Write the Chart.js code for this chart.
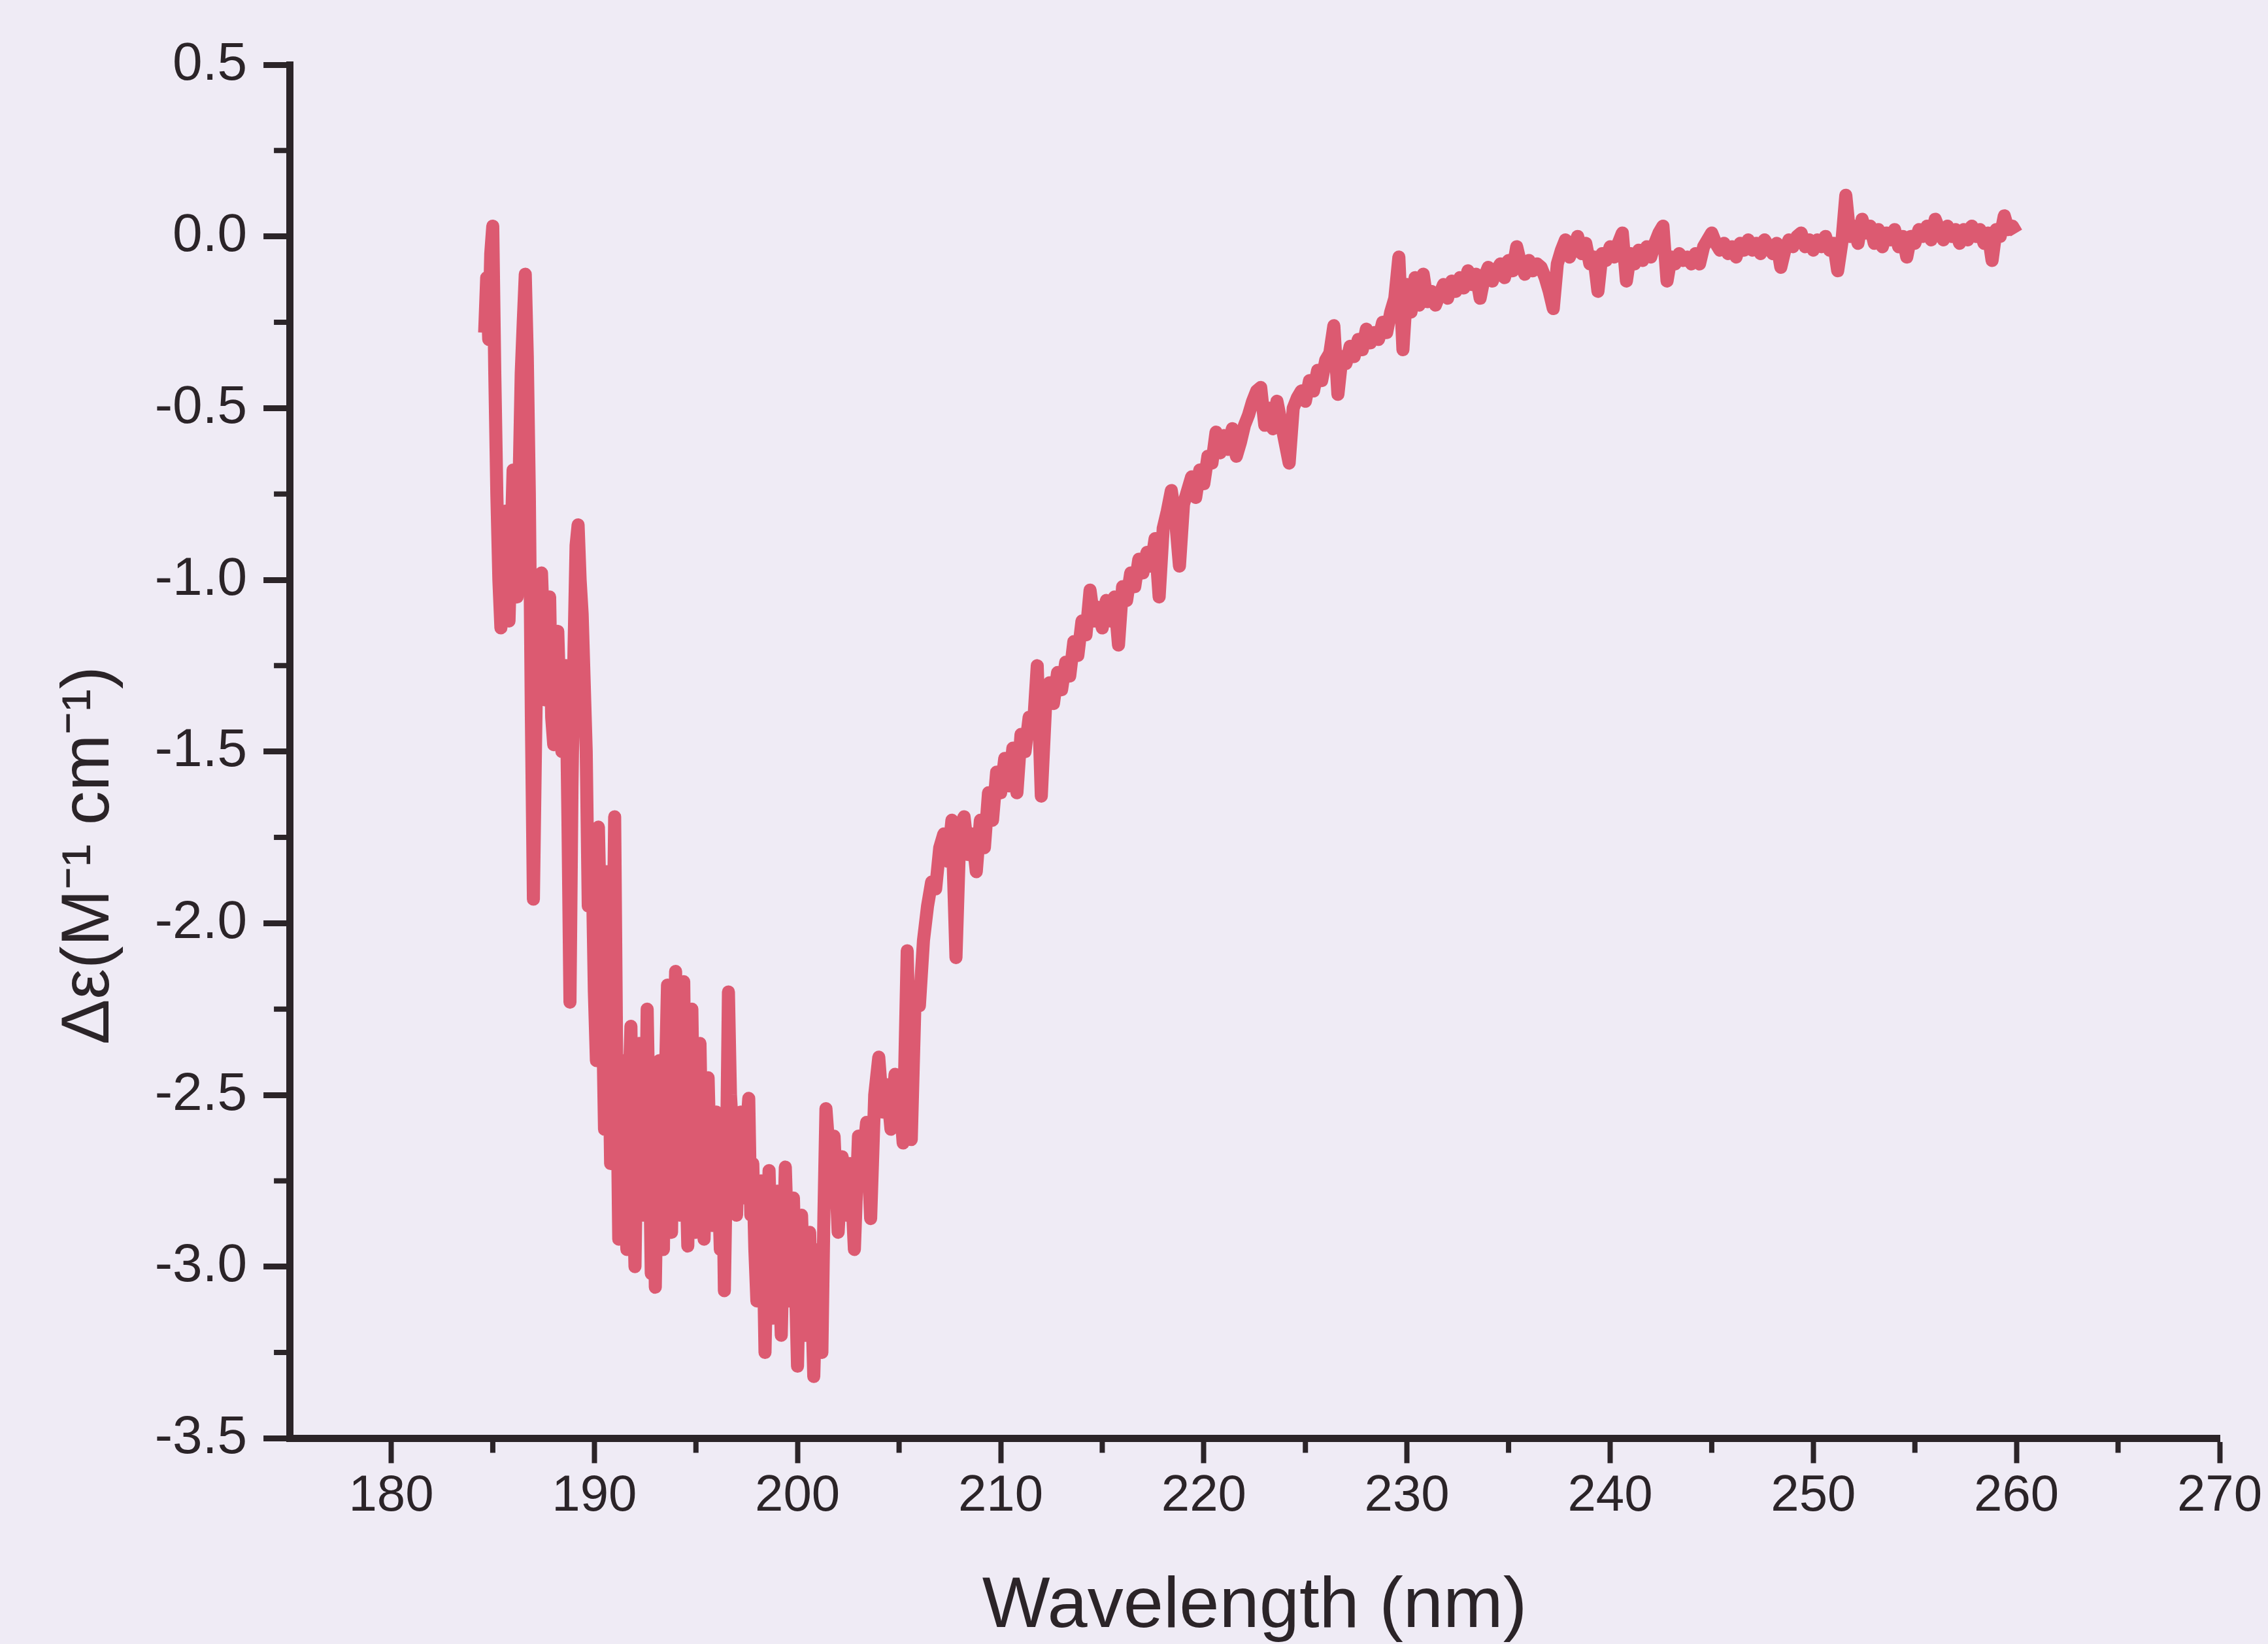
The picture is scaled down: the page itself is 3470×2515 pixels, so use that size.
<!DOCTYPE html>
<html>
<head>
<meta charset="utf-8">
<script src="https://cdn.jsdelivr.net/npm/chart.js@4.4.1/dist/chart.umd.min.js"></script>
<style>
html,body{margin:0;padding:0;background:#EFEBF5;}
canvas{display:block;}
</style>
</head>
<body>
<canvas id="c" width="3470" height="2515"></canvas>
<script>
// Wavelength (nm) of each sample
const wavelengthNm = [
184.6,184.7,184.8,184.9,185.0,185.1,185.2,185.3,185.4,185.5,
185.6,185.7,185.8,185.9,186.0,186.1,186.2,186.3,186.4,186.5,
186.6,186.7,186.8,186.9,187.0,187.1,187.2,187.3,187.4,187.5,
187.6,187.7,187.8,187.9,188.0,188.1,188.2,188.3,188.4,188.5,
188.6,188.7,188.8,188.9,189.0,189.1,189.2,189.3,189.4,189.5,
189.6,189.7,189.8,189.9,190.0,190.1,190.2,190.3,190.4,190.5,
190.6,190.7,190.8,190.9,191.0,191.1,
191.2,191.3,191.4,191.5,191.6,191.7,191.8,191.9,192.0,192.1,
192.2,192.3,192.4,192.5,192.6,192.7,192.8,192.9,193.0,193.1,
193.2,193.3,193.4,193.5,193.6,193.7,193.8,193.9,194.0,194.1,
194.2,194.3,194.4,194.5,194.6,194.7,194.8,194.9,195.0,195.1,
195.2,195.3,195.4,195.5,195.6,195.7,195.8,195.9,196.0,196.1,
196.2,196.3,196.4,196.5,196.6,196.7,196.8,196.9,197.0,197.1,
197.2,197.3,197.4,197.5,197.6,197.7,197.8,197.9,198.0,198.1,
198.2,198.3,198.4,198.5,198.6,198.7,198.8,198.9,199.0,199.1,
199.2,199.3,199.4,199.5,199.6,199.7,199.8,199.9,200.0,200.1,
200.2,200.3,200.4,200.5,200.6,200.7,200.8,200.9,201.0,201.1,
201.2,201.3,201.4,
201.6,201.8,202.0,202.2,202.4,
202.6,202.8,203.0,203.2,203.4,203.6,203.8,204.0,204.2,204.4,
204.6,204.8,205.0,205.2,205.4,205.6,205.8,206.0,206.2,206.4,
206.6,206.8,207.0,207.2,207.4,207.6,207.8,208.0,208.2,208.4,
208.6,208.8,209.0,209.2,209.4,209.6,209.8,210.0,210.2,210.4,
210.6,210.8,211.0,211.2,211.4,211.6,211.8,212.0,212.2,212.4,
212.6,212.8,213.0,213.2,213.4,213.6,213.8,214.0,214.2,214.4,
214.6,214.8,215.0,215.2,215.4,215.6,215.8,216.0,216.2,216.4,
216.6,216.8,217.0,217.2,217.4,217.6,217.8,218.0,218.2,218.4,
218.6,218.8,219.0,219.2,219.4,219.6,219.8,220.0,220.2,220.4,
220.6,220.8,221.0,221.2,221.4,221.6,221.8,222.0,222.2,222.4,
222.6,222.8,223.0,223.2,223.4,223.6,223.8,224.0,224.2,224.4,
224.6,224.8,225.0,225.2,225.4,225.6,225.8,226.0,226.2,226.4,
226.6,226.8,227.0,227.2,227.4,227.6,227.8,228.0,228.2,228.4,
228.6,228.8,229.0,229.2,229.4,229.6,229.8,230.0,230.2,230.4,
230.6,230.8,231.0,231.2,231.4,231.6,231.8,232.0,232.2,232.4,
232.6,232.8,233.0,233.2,233.4,233.6,233.8,234.0,234.2,234.4,
234.6,234.8,235.0,235.2,235.4,235.6,235.8,236.0,236.2,236.4,
236.6,236.8,237.0,237.2,237.4,237.6,237.8,238.0,238.2,238.4,
238.6,238.8,239.0,239.2,239.4,239.6,239.8,240.0,240.2,240.4,
240.6,240.8,241.0,241.2,241.4,241.6,241.8,242.0,242.2,242.4,
242.6,242.8,243.0,243.2,243.4,243.6,243.8,244.0,244.2,244.4,
244.6,244.8,245.0,245.2,245.4,245.6,245.8,246.0,246.2,246.4,
246.6,246.8,247.0,247.2,247.4,247.6,247.8,248.0,248.2,248.4,
248.6,248.8,249.0,249.2,249.4,249.6,249.8,250.0,250.2,250.4,
250.6,250.8,251.0,251.2,251.4,251.6,251.8,252.0,252.2,252.4,
252.6,252.8,253.0,253.2,253.4,253.6,253.8,254.0,254.2,254.4,
254.6,254.8,255.0,255.2,255.4,255.6,255.8,256.0,256.2,256.4,
256.6,256.8,257.0,257.2,257.4,257.6,257.8,258.0,258.2,258.4,
258.6,258.8,259.0,259.2,259.4,259.6,259.8,260.0
];

// Δε (M^-1 cm^-1), one per wavelength above
const deltaEpsilon = [
-0.28,-0.12,-0.30,-0.05,0.03,-0.40,-0.75,-1.00,-1.14,-0.95,
-0.80,-1.00,-1.12,-0.90,-0.68,-0.85,-1.05,-0.70,-0.40,-0.25,
-0.11,-0.35,-0.75,-1.40,-1.93,-1.50,-1.10,-1.30,-0.98,-1.15,
-1.35,-1.25,-1.05,-1.40,-1.48,-1.20,-1.15,-1.35,-1.50,-1.40,
-1.25,-1.70,-2.23,-1.60,-1.20,-0.90,-0.84,-1.00,-1.10,-1.30,
-1.50,-1.95,-1.75,-1.85,-2.20,-2.40,-1.72,-2.00,-2.25,-2.60,
-1.85,-2.30,-2.70,-2.20,-1.69,-2.40,
-2.92,-2.55,-2.40,-2.80,-2.95,-2.50,-2.30,-2.75,-3.00,-2.60,
-2.35,-2.55,-2.85,-2.70,-2.25,-2.60,-3.02,-2.45,-3.06,-2.70,
-2.40,-2.65,-2.95,-2.45,-2.18,-2.65,-2.90,-2.40,-2.14,-2.60,
-2.85,-2.45,-2.17,-2.70,-2.94,-2.50,-2.25,-2.65,-2.90,-2.55,
-2.35,-2.70,-2.92,-2.60,-2.45,-2.70,-2.88,-2.65,-2.55,-2.75,
-2.95,-2.60,-3.07,-2.70,-2.20,-2.50,-2.60,-2.75,-2.85,-2.65,
-2.55,-2.70,-2.80,-2.60,-2.51,-2.85,-2.70,-2.95,-3.10,-2.85,
-2.75,-2.90,-3.25,-2.95,-2.72,-2.95,-3.15,-2.90,-2.78,-3.00,
-3.20,-2.95,-2.71,-2.90,-3.10,-2.95,-2.80,-3.05,-3.29,-3.00,
-2.85,-3.05,-3.20,-3.00,-2.90,-3.10,-3.32,-3.10,-2.95,-3.05,
-3.25,-2.85,-2.54,
-2.70,-2.62,-2.90,-2.68,-2.85,
-2.70,-2.95,-2.62,-2.70,-2.58,-2.86,-2.50,-2.39,-2.55,-2.47,
-2.60,-2.44,-2.48,-2.64,-2.08,-2.63,-2.19,-2.24,-2.05,-1.95,
-1.88,-1.90,-1.78,-1.74,-1.82,-1.70,-2.10,-1.72,-1.69,-1.80,
-1.74,-1.85,-1.70,-1.78,-1.62,-1.70,-1.56,-1.62,-1.52,-1.60,
-1.49,-1.62,-1.45,-1.50,-1.40,-1.44,-1.25,-1.63,-1.38,-1.30,
-1.36,-1.27,-1.32,-1.24,-1.28,-1.18,-1.22,-1.12,-1.16,-1.03,
-1.12,-1.08,-1.14,-1.06,-1.12,-1.05,-1.19,-1.02,-1.06,-0.98,
-1.02,-0.94,-0.98,-0.92,-0.96,-0.88,-1.05,-0.85,-0.80,-0.74,
-0.82,-0.96,-0.78,-0.74,-0.70,-0.76,-0.68,-0.72,-0.64,-0.66,
-0.57,-0.63,-0.58,-0.62,-0.56,-0.64,-0.60,-0.55,-0.52,-0.48,
-0.45,-0.44,-0.55,-0.50,-0.56,-0.48,-0.54,-0.60,-0.66,-0.50,
-0.47,-0.45,-0.48,-0.42,-0.45,-0.39,-0.42,-0.36,-0.34,-0.26,
-0.46,-0.35,-0.37,-0.32,-0.35,-0.30,-0.33,-0.27,-0.31,-0.28,
-0.30,-0.25,-0.28,-0.22,-0.18,-0.06,-0.33,-0.14,-0.22,-0.12,
-0.20,-0.11,-0.19,-0.16,-0.20,-0.17,-0.14,-0.18,-0.13,-0.16,
-0.12,-0.15,-0.10,-0.14,-0.11,-0.18,-0.12,-0.09,-0.13,-0.10,
-0.08,-0.12,-0.07,-0.10,-0.03,-0.08,-0.11,-0.07,-0.10,-0.08,
-0.09,-0.12,-0.16,-0.21,-0.08,-0.04,-0.01,-0.06,-0.03,0.00,
-0.05,-0.02,-0.08,-0.06,-0.16,-0.05,-0.07,-0.03,-0.06,-0.02,
0.01,-0.13,-0.05,-0.08,-0.04,-0.07,-0.03,-0.06,-0.02,0.01,
0.03,-0.13,-0.06,-0.08,-0.05,-0.07,-0.06,-0.08,-0.05,-0.08,
-0.03,-0.01,0.01,-0.02,-0.04,-0.02,-0.05,-0.03,-0.06,-0.02,
-0.04,-0.01,-0.04,-0.02,-0.05,-0.01,-0.03,-0.05,-0.02,-0.09,
-0.04,-0.01,-0.03,0.00,0.01,-0.03,-0.01,-0.04,-0.01,-0.03,
0.00,-0.04,-0.02,-0.10,-0.02,0.12,0.00,0.03,-0.02,0.05,
0.01,0.03,-0.02,0.02,-0.03,0.01,-0.01,0.02,-0.03,0.00,
-0.06,0.00,-0.02,0.02,0.00,0.03,-0.01,0.05,0.02,-0.01,
0.03,0.00,0.02,-0.02,0.02,-0.01,0.03,0.00,0.02,-0.02,
0.01,-0.07,0.02,0.00,0.06,0.02,0.03,0.01
];

// Axis ticks
const xTickValues = [180,190,200,210,220,230,240,250,260,270];
const xMinorTicks = [185,195,205,215,225,235,245,255,265];
const yTickValues = [0.5,0.0,-0.5,-1.0,-1.5,-2.0,-2.5,-3.0,-3.5];
const yMinorTicks = [0.25,-0.25,-0.75,-1.25,-1.75,-2.25,-2.75,-3.25];

const xTitle = 'Wavelength (nm)';
const yTitle = '\u0394\u03b5(M\u207b\u00b9 cm\u207b\u00b9)';

const ink = '#2B2428';
const lineColor = '#DC5A71';
const fontFamily = '"Liberation Sans", Arial, Helvetica, sans-serif';

const minorTickPlugin = {
  id: 'minorTicks',
  afterDraw(chart) {
    const ctx = chart.ctx;
    const area = chart.chartArea;
    const xs = chart.scales.x, ys = chart.scales.y;
    ctx.save();
    ctx.strokeStyle = ink;
    ctx.lineWidth = 8;
    ctx.beginPath();
    xMinorTicks.forEach(v => {
      const p = xs.getPixelForValue(v);
      ctx.moveTo(p, area.bottom);
      ctx.lineTo(p, area.bottom + 22);
    });
    yMinorTicks.forEach(v => {
      const p = ys.getPixelForValue(v);
      ctx.moveTo(area.left, p);
      ctx.lineTo(area.left - 24, p);
    });
    ctx.stroke();
    ctx.restore();
  }
};

const points = wavelengthNm.map((w, i) => ({x: w, y: deltaEpsilon[i]}));
const pad = '\u00a0'.repeat(11);

new Chart(document.getElementById('c'), {
  type: 'line',
  data: {
    datasets: [{
      data: points,
      borderColor: lineColor,
      borderWidth: 20,
      borderJoinStyle: 'round',
      pointRadius: 0,
      tension: 0,
      fill: false
    }]
  },
  options: {
    responsive: false,
    animation: false,
    devicePixelRatio: 1,
    layout: {padding: {left: 20, right: 74, top: 99, bottom: 0}},
    plugins: {legend: {display: false}, tooltip: {enabled: false}},
    scales: {
      x: {
        type: 'linear',
        min: 175,
        max: 270,
        afterBuildTicks: s => { s.ticks = xTickValues.map(v => ({value: v})); },
        grid: {display: true, drawOnChartArea: false, drawTicks: true, tickLength: 38, tickWidth: 8, tickColor: ink},
        border: {display: true, color: ink, width: 11},
        ticks: {color: ink, font: {family: fontFamily, size: 78}, padding: 4, maxRotation: 0, autoSkip: false,
                callback: v => String(v)},
        title: {display: true, text: xTitle, color: ink, font: {family: fontFamily, size: 110},
                padding: {top: 53, bottom: -10}}
      },
      y: {
        type: 'linear',
        min: -3.5,
        max: 0.5,
        afterBuildTicks: s => { s.ticks = yTickValues.map(v => ({value: v})); },
        grid: {display: true, drawOnChartArea: false, drawTicks: true, tickLength: 40, tickWidth: 9, tickColor: ink},
        border: {display: true, color: ink, width: 11},
        ticks: {color: ink, font: {family: fontFamily, size: 82}, padding: 25, autoSkip: false,
                callback: v => Number(v).toFixed(1)},
        title: {display: true, text: yTitle + pad, color: ink, font: {family: fontFamily, size: 104},
                padding: {top: 55, bottom: 12}}
      }
    }
  },
  plugins: [minorTickPlugin]
});
</script>
</body>
</html>
